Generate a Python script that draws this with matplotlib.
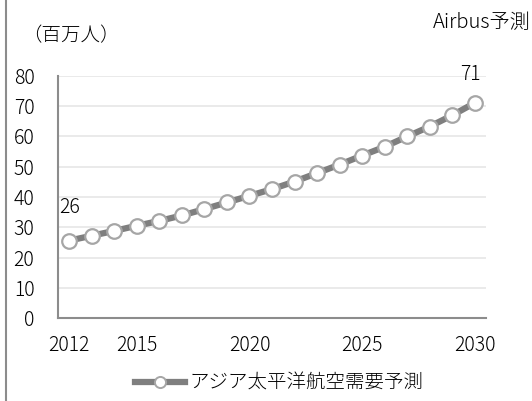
import numpy as np
import matplotlib.pyplot as plt
from matplotlib.lines import Line2D

plt.rcParams['font.family'] = ['Noto Sans CJK JP', 'DejaVu Sans']
plt.rcParams['font.weight'] = 'light'

years = list(range(2012, 2031))
passengers = [25.6, 27.2, 28.8, 30.5, 32.1, 33.9, 36.0, 38.2, 40.4, 42.6,
              45.1, 47.9, 50.7, 53.7, 56.6, 60.0, 63.3, 67.0, 71.1]
tick_years = [2012, 2015, 2020, 2025, 2030]
y_ticks = [0, 10, 20, 30, 40, 50, 60, 70, 80]
series_name = 'アジア太平洋航空需要予測'
unit_label = '（百万人）'
source_label = 'Airbus予測'

fig = plt.figure(figsize=(5.32, 4.01), dpi=100)
ax = fig.add_axes([58 / 532, 1 - 318 / 401, (486 - 58) / 532, (318 - 76) / 401])

x = np.arange(len(years))
ax.plot(x, passengers, color='#7f7f7f', lw=4.5, marker='o', ms=10.5,
        mfc='white', mec='#a6a6a6', mew=1.6, zorder=3, clip_on=False)

ax.set_xlim(-0.5, len(years) - 0.5)
ax.set_ylim(0, 80)
ax.set_yticks(y_ticks)
ax.set_yticklabels([str(v) for v in y_ticks], fontsize=14)
ax.set_xticks([years.index(y) for y in tick_years])
ax.set_xticklabels([str(y) for y in tick_years], fontsize=14)
ax.tick_params(length=0)
ax.tick_params(axis='x', pad=12)
ax.tick_params(axis='y', pad=17)
ax.grid(axis='y', color='#e6e6e6', lw=1.2)
ax.set_axisbelow(True)
for s in ['top', 'right']:
    ax.spines[s].set_visible(False)
for s in ['left', 'bottom']:
    ax.spines[s].set_color('#8c8c8c')
    ax.spines[s].set_linewidth(1.5)

ax.annotate(f'{round(passengers[0])}', (0, passengers[0]), xytext=(-7, 16),
            textcoords='offset points', fontsize=14, ha='left', va='bottom')
ax.annotate(f'{round(passengers[-1])}', (len(years) - 1, passengers[-1]),
            xytext=(-3, 13), textcoords='offset points', fontsize=14,
            ha='center', va='bottom')

fig.text(22 / 532, 1 - 36 / 401, unit_label, fontsize=14, va='center')
fig.text(531 / 532, 1 - 22 / 401, source_label, fontsize=14.5, va='center', ha='right')

fig.add_artist(Line2D([5.5 / 532, 5.5 / 532], [0, 1], color='#8c8c8c', lw=1.5))

handle = Line2D([], [], color='#7f7f7f', lw=4.5, marker='o', ms=8,
                mfc='white', mec='#a6a6a6', mew=1.4)
fig.legend([handle], [series_name], loc='center', bbox_to_anchor=(279 / 532, 1 - 383 / 401),
           frameon=False, fontsize=14, handlelength=2.6, handletextpad=0.2)

fig.savefig('out.png', dpi=100)
